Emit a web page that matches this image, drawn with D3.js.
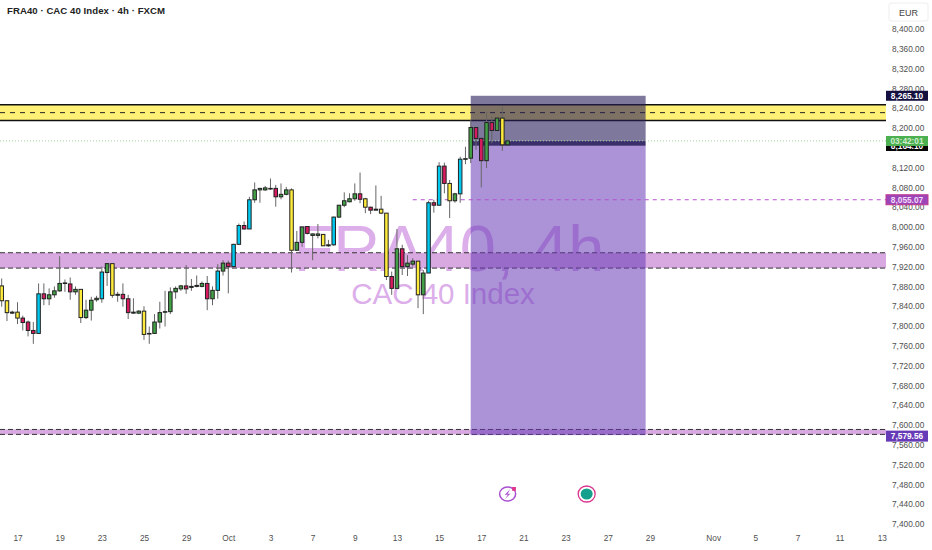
<!DOCTYPE html>
<html><head><meta charset="utf-8">
<script src="https://cdn.jsdelivr.net/npm/d3@7"></script>
<style>html,body{margin:0;padding:0;background:#fff}svg{display:block}text{font-family:"Liberation Sans",Arial,sans-serif}</style>
</head><body><svg id="c" width="932" height="550"></svg>
<script>
const kinds = "YYDYPPPCPGGGDPGYGGGCGYDPPDGYDGGDGGGPDDGPGCGPCCPCGDDDPGGYGGPDDYDCGGGGPYPDYYPGPGGYGCPCPYGCDGPPGPGYG".split("");
const opens = [7881,7851,7828,7828,7816,7808,7791,7785,7865,7855,7863,7871,7887,7885,7869,7874,7817,7832,7853,7855,7908,7926,7864,7864,7855,7828,7826,7830,7785,7785,7808,7829,7829,7869,7875,7881,7880,7882,7880,7886,7855,7872,7911,7927,7920,7965,8003,7996,8055,8078,8079,8078,8078,8061,8066,8075,7953,7969,8001,7986,7986,7985,7964,7964,8020,8044,8051,8057,8067,8057,8040,8036,8036,8028,7900,7876,7956,7920,7925,7931,7863,7907,8049,8044,8123,8088,8053,8067,8138,8139,8201,8179,8134,8211,8195,8220,8166];
const highs = [7896,7851,7831,7848,7821,7811,7808,7886,7886,7876,7880,7941,7894,7898,7880,7874,7853,7859,7861,7920,7927,7926,7869,7886,7863,7856,7832,7840,7799,7824,7849,7871,7878,7880,7883,7923,7895,7902,7890,7901,7880,7925,7933,7932,7966,8007,8011,8061,8090,8079,8083,8098,8085,8088,8081,8078,7992,8001,8001,7987,8006,7986,7974,8021,8044,8070,8068,8088,8110,8059,8041,8084,8063,8028,7910,7996,7964,7943,7937,7931,7913,8053,8055,8131,8130,8095,8069,8142,8162,8216,8201,8179,8233,8224,8220,8243,8176];
const lows = [7839,7810,7824,7804,7791,7779,7764,7785,7842,7842,7857,7869,7869,7853,7863,7806,7814,7811,7849,7847,7881,7857,7849,7839,7814,7825,7824,7772,7764,7785,7795,7799,7824,7855,7871,7865,7871,7878,7878,7832,7842,7855,7902,7866,7919,7964,7995,7996,8049,8049,8073,8075,8041,8056,8064,7908,7952,7960,7985,7933,7977,7962,7960,7962,8018,8040,8050,8053,8048,8028,8026,8034,8026,7893,7863,7876,7903,7901,7920,7836,7824,7907,8029,8044,8068,8018,8049,8049,8127,8129,8156,8080,8119,8169,8195,8154,8164];
const closes = [7851,7827,7826,7816,7807,7791,7785,7865,7855,7863,7871,7886,7886,7869,7874,7817,7832,7852,7856,7909,7926,7862,7862,7855,7827,7826,7830,7783,7784,7808,7827,7828,7869,7876,7881,7875,7878,7880,7886,7855,7872,7911,7927,7920,7965,8003,7996,8055,8075,8075,8075,8077,8061,8066,8075,7953,7969,8000,7987,7983,7983,7962,7962,8020,8044,8053,8057,8067,8056,8040,8034,8034,8028,7900,7876,7956,7920,7927,7931,7863,7907,8049,8044,8123,8088,8053,8067,8137,8137,8201,8179,8134,8211,8195,8220,8166,8174];

const priceTicks = [7400,7440,7480,7520,7560,7600,7640,7680,7720,7760,7800,7840,7880,7920,7960,8000,8040,8080,8120,8200,8240,8280,8320,8360,8400];
const dateTickIdx = [3,11,19,27,35,43,51,59,67,75,83,91,99,107,115,123,135,143,151,159,167];
const dateTickLabels = ["17","19","23","25","29","Oct","3","7","9","13","15","17","21","23","27","29","Nov","5","7","11","13"];

const yellowZone = [8247,8231,8215];
const purpleZoneHigh = [7948,7917];
const purpleZoneLow = [7591,7581];
const boxTop = 8265.10, boxEntryTop = 8174, boxEntryBottom = 8164, boxBottom = 7579.56;
const boxStartIdx = 89, boxEndIdx = 122;
const midLevel = 8055.07, midLevelStartIdx = 78;
const lastPrice = 8174, entryLabel = "8,164.10", countdown = "03:42:01";

const colors = {Y:"#ffeb3b",P:"#d81b60",C:"#00c8ee",G:"#43a047",D:"#43a047"};
const W = 932, H = 550, plotR = 886;
const svg = d3.select("#c");
const x = d3.scaleLinear().domain([0,100]).range([1.7,528.7]);
const y = d3.scaleLinear().domain([7400,8400]).range([524,29]);
const fmt = d3.format(",.2f");

// watermark
const wm = svg.append("g").attr("fill","#dcaeea").attr("text-anchor","middle");
wm.append("text").attr("x",449).attr("y",271).attr("font-size",65).text("FRA40, 4h");
wm.append("text").attr("x",443).attr("y",304).attr("font-size",29.5).text("CAC 40 Index");

// zones
function zone(top,bot,fill){
  svg.append("rect").attr("x",0).attr("width",plotR).attr("y",y(top)).attr("height",y(bot)-y(top)).attr("fill",fill);
}
zone(yellowZone[0],yellowZone[2],"#fff176");
[yellowZone[0],yellowZone[2]].forEach(v=>svg.append("line").attr("x1",0).attr("x2",plotR).attr("y1",y(v)).attr("y2",y(v)).attr("stroke","#111").attr("stroke-width",1.5));
svg.append("line").attr("x1",0).attr("x2",plotR).attr("y1",y(yellowZone[1])).attr("y2",y(yellowZone[1])).attr("stroke","#222").attr("stroke-dasharray","5 5");
[purpleZoneHigh,purpleZoneLow].forEach(z=>{
  zone(z[0],z[1],"#d8a8e0");
  z.forEach(v=>svg.append("line").attr("x1",0).attr("x2",plotR).attr("y1",y(v)).attr("y2",y(v)).attr("stroke","#333").attr("stroke-dasharray","5 3"));
});

// position box
const bx = x(boxStartIdx), bw = x(boxEndIdx)-x(boxStartIdx)+1;
svg.append("rect").attr("x",bx).attr("width",bw).attr("y",y(boxTop)).attr("height",y(boxEntryTop)-y(boxTop)).attr("fill","rgb(40,30,90)").attr("opacity",.6);
svg.append("rect").attr("x",bx).attr("width",bw).attr("y",y(boxEntryTop)).attr("height",y(boxEntryBottom)-y(boxEntryTop)).attr("fill","#3b2f6b");
svg.append("rect").attr("x",bx).attr("width",bw).attr("y",y(boxEntryBottom)).attr("height",y(boxBottom)-y(boxEntryBottom)).attr("fill","rgb(103,58,183)").attr("opacity",.55);

// level lines
svg.append("line").attr("x1",x(midLevelStartIdx)).attr("x2",plotR).attr("y1",y(midLevel)).attr("y2",y(midLevel)).attr("stroke","#b64fd0").attr("stroke-dasharray","4 4");
svg.append("line").attr("x1",0).attr("x2",plotR).attr("y1",y(lastPrice)).attr("y2",y(lastPrice)).attr("stroke","#9fcf9f").attr("stroke-dasharray","1 2");

// candles
const rows = d3.range(opens.length).map(i=>({i,o:opens[i],h:highs[i],l:lows[i],c:closes[i],k:kinds[i]}));
const g = svg.append("g");
g.selectAll("line").data(rows).join("line")
 .attr("x1",d=>x(d.i)).attr("x2",d=>x(d.i)).attr("y1",d=>y(d.h)).attr("y2",d=>y(d.l))
 .attr("stroke","#666").attr("stroke-width",1);
g.selectAll("rect").data(rows).join("rect")
 .attr("x",d=>x(d.i)-1.75).attr("width",3.5)
 .attr("y",d=>y(Math.max(d.o,d.c)))
 .attr("height",d=>Math.max(.6,Math.abs(y(d.o)-y(d.c))))
 .attr("fill",d=>colors[d.k]).attr("stroke","#222").attr("stroke-width",1);

// axes
const ya = d3.axisRight(y).tickValues(priceTicks).tickSize(0).tickPadding(0).tickFormat(fmt);
const yg = svg.append("g").attr("transform","translate(892,0)").call(ya);
yg.select(".domain").remove();
yg.selectAll("text").attr("font-size",8.3).attr("font-family","'Liberation Sans',Arial,sans-serif").attr("fill","#4f4f4f");
const xa = d3.axisBottom(x).tickValues(dateTickIdx).tickSize(0).tickPadding(0).tickFormat((d,i)=>dateTickLabels[i]);
const xg = svg.append("g").attr("transform","translate(0,535.5)").call(xa);
xg.select(".domain").remove();
xg.selectAll("text").attr("font-size",8.3).attr("font-family","'Liberation Sans',Arial,sans-serif").attr("fill","#4f4f4f");

// labels
function label(yc,h,fill,txt,tc,stroke){
  svg.append("rect").attr("x",886).attr("width",42).attr("y",yc-h/2).attr("height",h).attr("fill",fill).attr("stroke",stroke||"none");
  svg.append("text").attr("x",907).attr("y",yc+3).attr("text-anchor","middle").attr("font-size",8.3).attr("font-weight","bold").attr("fill",tc).text(txt);
}
label(y(boxTop),10,"#141040",fmt(boxTop),"#fff");
label(146,10,"#050505",entryLabel,"#fff");
label(141,10,"#4caf50",countdown,"#cfeccf");
label(y(midLevel),10,"#9c45b8",fmt(midLevel),"#f3dcf8","#c2398f");
label(y(boxBottom)+1,11,"#673ab7",fmt(boxBottom),"#fff");

// title
svg.append("text").attr("x",7).attr("y",14).attr("font-size",9.6).attr("font-weight","bold").attr("font-family","'DejaVu Sans',sans-serif").attr("textLength",158).attr("fill","#222").text("FRA40 · CAC 40 Index · 4h · FXCM");

// currency
svg.append("rect").attr("x",889).attr("y",3).attr("width",39).attr("height",18).attr("rx",2).attr("fill","#fff").attr("stroke","#eee");
svg.append("text").attr("x",908.5).attr("y",15.5).attr("text-anchor","middle").attr("font-size",9).attr("fill","#444").text("EUR");

// event icons
const ev1 = svg.append("g").attr("transform",`translate(${x(96)},494)`);
ev1.append("ellipse").attr("rx",8).attr("ry",7).attr("fill","#fff").attr("stroke","#a94fd0").attr("stroke-width",1.5);
ev1.append("path").attr("d","M2.5,-5 L-3,1 L0.3,0.5 L-2.5,5 L3,-0.5 L0,0 Z").attr("fill","#a94fd0");
ev1.append("rect").attr("x",4.5).attr("y",-7).attr("width",3.8).attr("height",3.8).attr("fill","#e0348c");
const ev2 = svg.append("g").attr("transform",`translate(${x(111)},494)`);
ev2.append("ellipse").attr("rx",8.5).attr("ry",8).attr("fill","#fff").attr("stroke","#d8348c").attr("stroke-width",1.3);
ev2.append("ellipse").attr("rx",6).attr("ry",5.5).attr("fill","#14a08c");
</script></body></html>
